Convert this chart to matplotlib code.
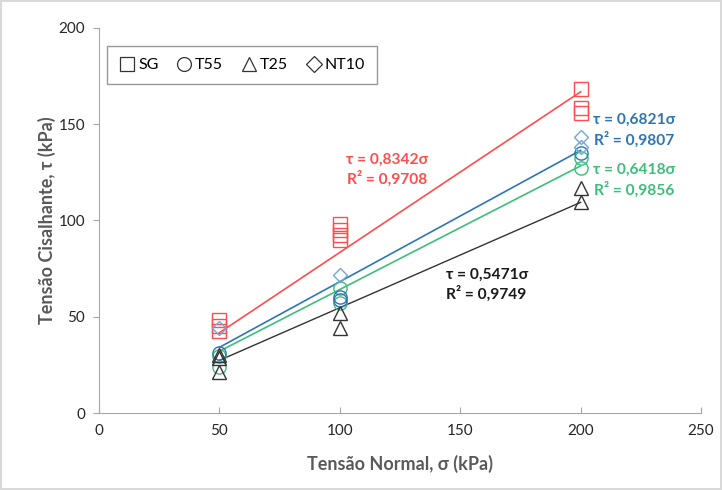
import numpy as np
import matplotlib.pyplot as plt
from matplotlib.lines import Line2D

plt.rcParams['font.family'] = ['Lato', 'Open Sans', 'DejaVu Sans']

# data (normal stress sigma, shear stress tau), kPa
sg_x = [50, 50, 50, 100, 100, 100, 100, 200, 200, 200]
sg_y = [48.3, 45.2, 42.6, 98.2, 95.1, 92.5, 89.9, 168.3, 158.4, 155.8]

t55_x = [50, 50, 100, 100, 200, 200]
t55_y = [29.5, 23.9, 65.0, 57.0, 132.5, 127.3]
# the T55 points drawn in darker blue
t55b_x = [50, 100, 100, 200]
t55b_y = [31.2, 60.3, 58.7, 135.0]

t25_x = [50, 50, 50, 100, 100, 200, 200]
t25_y = [30.0, 28.6, 21.3, 52.0, 44.0, 117.0, 109.6]

nt10_x = [50, 100, 200, 200]
nt10_y = [44.2, 71.7, 143.4, 138.2]

# trendlines tau = k * sigma
slopes = {'SG': 0.8342, 'NT10': 0.6821, 'T55': 0.6418, 'T25': 0.5471}
r2 = {'SG': '0,9708', 'NT10': '0,9807', 'T55': '0,9856', 'T25': '0,9749'}

red = '#FF4D4D'
blue = '#2E75B6'
lblue = '#6FA8DC'
green = '#3DBE7A'
black = '#333333'

fig = plt.figure(figsize=(7.22, 4.9), dpi=100)
fig.patch.set_edgecolor('#D9D9D9')
fig.patch.set_linewidth(1.5)
ax = fig.add_axes([0.137, 0.157, 0.834, 0.786])

xs = np.array([50, 200])
ax.plot(xs, slopes['SG'] * xs, color=red, lw=1.2)
ax.plot(xs, slopes['NT10'] * xs, color=blue, lw=1.2)
ax.plot(xs, slopes['T55'] * xs, color=green, lw=1.2)
ax.plot(xs, slopes['T25'] * xs, color=black, lw=1.0)

ms = 9.5
ax.plot(sg_x, sg_y, 's', ms=ms, mfc='none', mec=red, mew=1.0)
ax.plot(t55_x, t55_y, 'o', ms=ms, mfc='none', mec=green, mew=1.0)
ax.plot(t55b_x, t55b_y, 'o', ms=ms, mfc='none', mec=blue, mew=1.0)
ax.plot(t25_x, t25_y, '^', ms=ms, mfc='none', mec=black, mew=1.0)
ax.plot(nt10_x, nt10_y, 'D', ms=ms * 0.8, mfc='none', mec=lblue, mew=1.0)

ax.set_xlim(0, 250)
ax.set_ylim(0, 200)
ax.set_xticks(np.arange(0, 251, 50))
ax.set_yticks(np.arange(0, 201, 50))
for s in ('top', 'right'):
    ax.spines[s].set_visible(False)
for s in ('left', 'bottom'):
    ax.spines[s].set_color('#A6A6A6')
ax.tick_params(axis='x', direction='in', length=4, color='#A6A6A6',
               labelsize=11, labelcolor='#262626', pad=8)
ax.tick_params(axis='y', direction='out', length=4, color='#A6A6A6',
               labelsize=11, labelcolor='#262626', pad=6)

ax.set_xlabel('Tensão Normal, σ (kPa)', fontsize=13, fontweight='bold',
              color='#595959', labelpad=12)
ax.set_ylabel('Tensão Cisalhante, τ (kPa)', fontsize=13, fontweight='bold',
              color='#595959', labelpad=2)

kw = dict(fontsize=11.2, fontweight='bold', ha='center', va='center')
ax.text(119.6, 131.4, 'τ = 0,8342σ', color=red, **kw)
ax.text(119.6, 121.6, 'R² = ' + r2['SG'], color=red, **kw)
ax.text(222.2, 152.2, 'τ = 0,6821σ', color=blue, **kw)
ax.text(222.2, 141.8, 'R² = ' + r2['NT10'], color=blue, **kw)
ax.text(222.2, 126.2, 'τ = 0,6418σ', color=green, **kw)
ax.text(222.2, 115.8, 'R² = ' + r2['T55'], color=green, **kw)
ax.text(161, 71.7, 'τ = 0,5471σ', color='#1A1A1A', **kw)
ax.text(160.6, 61.8, 'R² = ' + r2['T25'], color='#1A1A1A', **kw)

handles = [
    Line2D([], [], ls='none', marker='s', ms=10, mfc='none', mec='#333333', mew=0.9),
    Line2D([], [], ls='none', marker='o', ms=10, mfc='none', mec='#333333', mew=0.9),
    Line2D([], [], ls='none', marker='^', ms=10, mfc='none', mec='#333333', mew=0.9),
    Line2D([], [], ls='none', marker='D', ms=8, mfc='none', mec='#333333', mew=0.9),
]
leg = fig.legend(handles, ['SG', 'T55', 'T25', 'NT10'], ncol=4,
                 loc='upper left', bbox_to_anchor=(0.148, 0.906),
                 borderaxespad=0, fontsize=11.5, frameon=True, fancybox=False,
                 handlelength=1.0, handletextpad=0.2, columnspacing=1.1,
                 borderpad=0.75)
leg.get_frame().set_edgecolor('#7F7F7F')
leg.get_frame().set_linewidth(1.0)

fig.savefig('out.png', dpi=100)
